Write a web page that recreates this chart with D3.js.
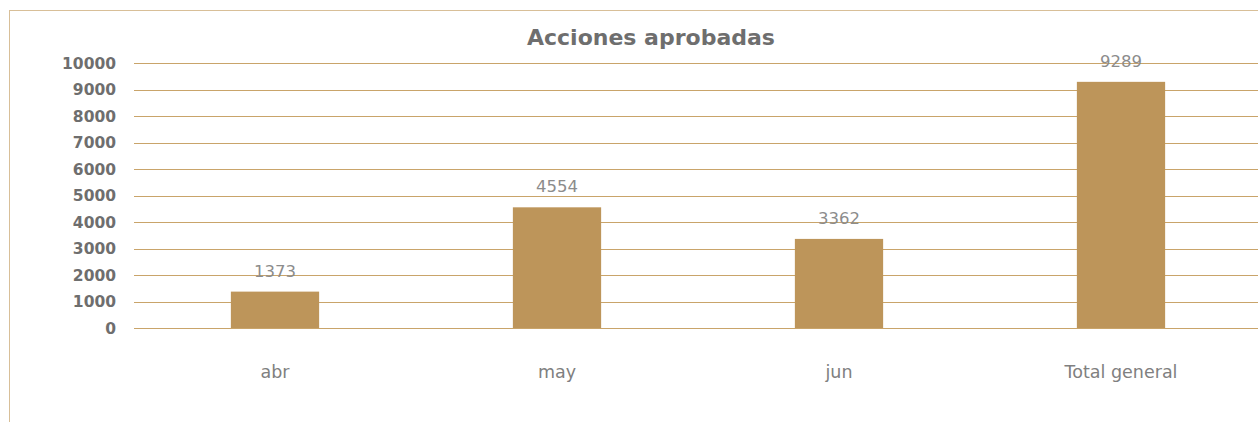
<!DOCTYPE html>
<html>
<head>
<meta charset="utf-8">
<script src="https://cdn.jsdelivr.net/npm/d3@7"></script>
<style>
  body { margin: 0; background: #fff; }
  svg text { font-family: "DejaVu Sans", sans-serif; }
</style>
</head>
<body>
<div id="chart"></div>
<script>
var w = 1258,
    h = 422;

// data
var categories = ["abr", "may", "jun", "Total general"];
var values = [1373, 4554, 3362, 9289];
var yTicks = [0, 1000, 2000, 3000, 4000, 5000, 6000, 7000, 8000, 9000, 10000];

var barColor = "#bd955a";
var gridColor = "#c9a46a";

var svg = d3.select("#chart").append("svg")
    .attr("width", w)
    .attr("height", h);

// outer frame, runs off the right and bottom edges
svg.append("rect")
    .attr("x", 9.5)
    .attr("y", 10.5)
    .attr("width", 1300)
    .attr("height", 500)
    .attr("fill", "none")
    .attr("stroke", "#d8bf98")
    .attr("stroke-width", 1);

var x = d3.scaleBand()
    .domain(categories)
    .range([134, 1262])
    .padding(0);

var y = d3.scaleLinear()
    .domain([0, 10000])
    .range([328, 63]);

// gridlines
svg.append("g")
    .selectAll("line")
    .data(yTicks)
    .enter().append("line")
    .attr("x1", 134)
    .attr("x2", w)
    .attr("y1", function(d) { return Math.round(y(d)) + 0.5; })
    .attr("y2", function(d) { return Math.round(y(d)) + 0.5; })
    .attr("stroke", gridColor)
    .attr("stroke-width", 1);

// y tick labels
svg.append("g")
    .selectAll("text")
    .data(yTicks)
    .enter().append("text")
    .attr("x", 116)
    .attr("y", function(d) { return y(d); })
    .attr("dy", "0.36em")
    .attr("text-anchor", "end")
    .style("font-size", "15.5px")
    .style("font-weight", "bold")
    .style("fill", "#6e6e6e")
    .text(function(d) { return d; });

var barW = x.bandwidth() * 0.313;

// bars
svg.append("g")
    .selectAll("rect")
    .data(values)
    .enter().append("rect")
    .attr("x", function(d, i) { return x(categories[i]) + x.bandwidth() / 2 - barW / 2; })
    .attr("y", function(d) { return y(d); })
    .attr("width", barW)
    .attr("height", function(d) { return y(0) - y(d); })
    .attr("fill", barColor);

// value labels
svg.append("g")
    .selectAll("text")
    .data(values)
    .enter().append("text")
    .attr("x", function(d, i) { return x(categories[i]) + x.bandwidth() / 2; })
    .attr("y", function(d) { return y(d) - 15; })
    .attr("text-anchor", "middle")
    .style("font-size", "16.5px")
    .style("fill", "#8c8c8c")
    .text(function(d) { return d; });

// category labels
svg.append("g")
    .selectAll("text")
    .data(categories)
    .enter().append("text")
    .attr("x", function(d) { return x(d) + x.bandwidth() / 2; })
    .attr("y", 378)
    .attr("text-anchor", "middle")
    .style("font-size", "17.5px")
    .style("fill", "#808080")
    .text(function(d) { return d; });

// title
svg.append("text")
    .attr("x", 651)
    .attr("y", 45)
    .attr("text-anchor", "middle")
    .style("font-size", "22px")
    .style("font-weight", "bold")
    .style("fill", "#6e6e6e")
    .text("Acciones aprobadas");
</script>
</body>
</html>
